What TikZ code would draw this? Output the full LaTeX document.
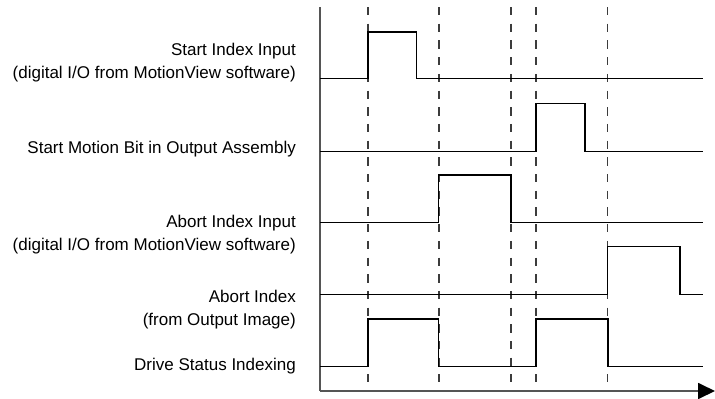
\documentclass[tikz,border=0pt]{standalone}
\usepackage{fontspec}
\setmainfont{Liberation Sans}
\usepackage{tikz}
\usetikzlibrary{arrows.meta, positioning}
\definecolor{axisgray}{RGB}{85, 85, 85}
\definecolor{dashgray}{RGB}{60, 60, 60}

\begin{document}
\begin{tikzpicture}[x=1pt, y=-1pt,
    siglabel/.style={anchor=east, align=right, inner sep=0pt, font=\fontsize{17}{23}\selectfont},
    signal/.style={black, line width=1.3pt},
    marker/.style={dashgray, line width=1.8pt, dash pattern=on 8.3pt off 8.4pt}]
        \useasboundingbox (0,0) rectangle (715,399);

        % Axes
        \coordinate (origin) at (320,391);
        \coordinate (top) at (320,7);
        \coordinate (tend) at (715,391);
        \draw[axisgray, line width=1.8pt] (top) -- (origin);
        \draw[axisgray, line width=1.8pt, -{Triangle[length=17pt, width=16pt, black]}] (origin) -- (tend);

        % Event markers
        \foreach \t in {368, 438.7, 511, 536, 607.5}
            \draw[marker] (\t,7) -- (\t,382);

        % Signal labels
        \node[siglabel] (startin) at (296,63) {Start Index Input\\(digital I/O from MotionView software)};
        \node[siglabel] (startbit) at (296,149) {Start Motion Bit in Output Assembly};
        \node[siglabel] (abortin) at (296,235) {Abort Index Input\\(digital I/O from MotionView software)};
        \node[siglabel] (abort) at (296,310) {Abort Index\\(from Output Image)};
        \node[siglabel] (status) at (296,366) {Drive Status Indexing};

        % Signals
        \draw[signal] (320,78.7) -- (368,78.7) -- (368,32) -- (416.7,32) -- (416.7,78.7) -- (703,78.7);
        \draw[signal] (320,151.7) -- (536,151.7) -- (536,103.3) -- (585,103.3) -- (585,151.7) -- (703,151.7);
        \draw[signal] (320,222.3) -- (438.7,222.3) -- (438.7,175) -- (511,175) -- (511,222.3) -- (703,222.3);
        \draw[signal] (320,294.7) -- (607.5,294.7) -- (607.5,246.7) -- (680,246.7) -- (680,294.7) -- (703,294.7);
        \draw[signal] (320,366.7) -- (368,366.7) -- (368,319) -- (438.7,319) -- (438.7,366.7)
            -- (536,366.7) -- (536,319) -- (608,319) -- (608,366.7) -- (703,366.7);
    \end{tikzpicture}
\end{document}
